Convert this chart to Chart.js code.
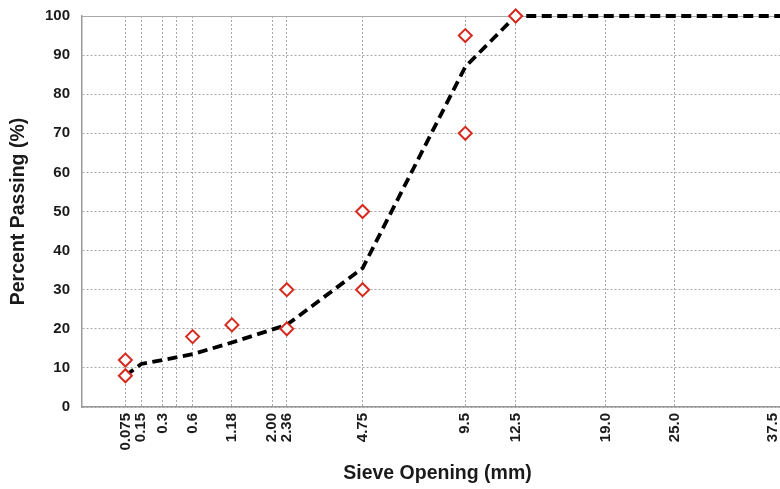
<!DOCTYPE html>
<html>
<head>
<meta charset="utf-8">
<script src="https://cdn.jsdelivr.net/npm/chart.js@4/dist/chart.umd.min.js"></script>
<style>
  html, body { margin: 0; padding: 0; background: #fff; overflow: hidden; }
  #wrap { width: 817px; height: 494px; margin-top: -5px; }
</style>
</head>
<body>
<div id="wrap"><canvas id="gradation"></canvas></div>
<script>
// 0.45 power gradation chart
const P = 0.45;
const pw = v => Math.pow(v, P);

const sieveSizes = [0.075, 0.15, 0.3, 0.6, 1.18, 2.36, 4.75, 9.5, 12.5, 19.0, 25.0, 37.5];
const percentPassing = [8, 11, 12, 13.5, 16.5, 21, 35.5, 87, 100, 100, 100, 100];

const limitSizes = [0.075, 0.075, 0.6, 1.18, 2.36, 2.36, 4.75, 4.75, 9.5, 9.5, 12.5];
const limitPassing = [12, 8, 18, 21, 30, 20, 50, 30, 95, 70, 100];

const gridSizes = [0.075, 0.15, 0.3, 0.425, 0.6, 1.18, 2.00, 2.36, 4.75, 9.5, 12.5, 19.0, 25.0, 37.5];
const gridLabels = ['0.075', '0.15', '0.3', '', '0.6', '1.18', '2.00', '2.36', '4.75', '9.5', '12.5', '19.0', '25.0', ''];
const lastLabel = '37.5';

const FONT = "'Liberation Sans', Arial, sans-serif";
const TEXT = '#1a1a1a';
const GRID = '#a8a8a8';

// last sieve label sits at the visible right edge
const edgeLabel = {
    id: 'edgeLabel',
    afterDraw(chart) {
        const ctx = chart.ctx;
        const x = window.innerWidth - 7;
        const y = chart.chartArea.bottom + 6;
        ctx.save();
        ctx.translate(x, y);
        ctx.rotate(-Math.PI / 2);
        ctx.font = 'bold 15px ' + FONT;
        ctx.fillStyle = TEXT;
        ctx.textAlign = 'right';
        ctx.textBaseline = 'middle';
        ctx.fillText(lastLabel, 0, 0);
        ctx.restore();
    }
};

new Chart(document.getElementById('gradation'), {
    type: 'scatter',
    data: {
        datasets: [{
            label: 'Limits',
            data: limitSizes.map((s, i) => ({ x: pw(s), y: limitPassing[i] })),
            showLine: false,
            clip: false,
            pointStyle: 'rectRot',
            pointRadius: 6.5,
            pointBorderWidth: 2,
            pointBorderColor: '#d52b1e',
            pointBackgroundColor: '#ffffff',
            order: 0
        }, {
            label: 'Gradation',
            data: sieveSizes.map((s, i) => ({ x: pw(s), y: percentPassing[i] })),
            showLine: true,
            clip: false,
            borderColor: '#000',
            borderWidth: 3.8,
            borderDash: [10, 5.5],
            pointRadius: 0,
            tension: 0,
            order: 1
        }]
    },
    options: {
        responsive: true,
        maintainAspectRatio: false,
        animation: false,
        layout: { padding: { top: 6, right: 12, left: 0, bottom: 0 } },
        plugins: {
            legend: { display: false },
            tooltip: { enabled: false }
        },
        scales: {
            x: {
                type: 'linear',
                min: 0,
                max: pw(37.5),
                afterBuildTicks: scale => {
                    scale.ticks = gridSizes.map(s => ({ value: pw(s) }));
                },
                afterFit: scale => { scale.height = 82; },
                ticks: {
                    autoSkip: false,
                    minRotation: 90,
                    maxRotation: 90,
                    padding: 6,
                    color: TEXT,
                    font: { family: FONT, size: 15, weight: 'bold' },
                    callback: (v, i) => gridLabels[i]
                },
                grid: { color: GRID, lineWidth: 1, drawTicks: false },
                border: { color: '#999', width: 1.5, dash: [2, 2] },
                title: {
                    display: true,
                    text: 'Sieve Opening (mm)',
                    color: TEXT,
                    font: { family: FONT, size: 19.5, weight: 'bold' },
                    padding: { top: 4, bottom: 4 }
                }
            },
            xTop: {
                type: 'linear',
                position: 'top',
                min: 0,
                max: pw(37.5),
                afterFit: scale => { scale.height = 0; },
                ticks: { display: false },
                grid: { display: false, drawTicks: false },
                border: { color: '#aaa', width: 1 }
            },
            y: {
                min: 0,
                max: 100,
                ticks: {
                    stepSize: 10,
                    padding: 12,
                    color: TEXT,
                    font: { family: FONT, size: 15, weight: 'bold' }
                },
                afterFit: scale => { scale.width = 82; },
                grid: { color: GRID, lineWidth: 1, drawTicks: false },
                border: { color: '#999', width: 1.5, dash: [2, 2] },
                title: {
                    display: true,
                    text: 'Percent Passing (%)',
                    color: TEXT,
                    font: { family: FONT, size: 19.5, weight: 'bold' },
                    padding: { top: 7, bottom: 4 }
                }
            }
        }
    },
    plugins: [edgeLabel]
});
</script>
</body>
</html>
